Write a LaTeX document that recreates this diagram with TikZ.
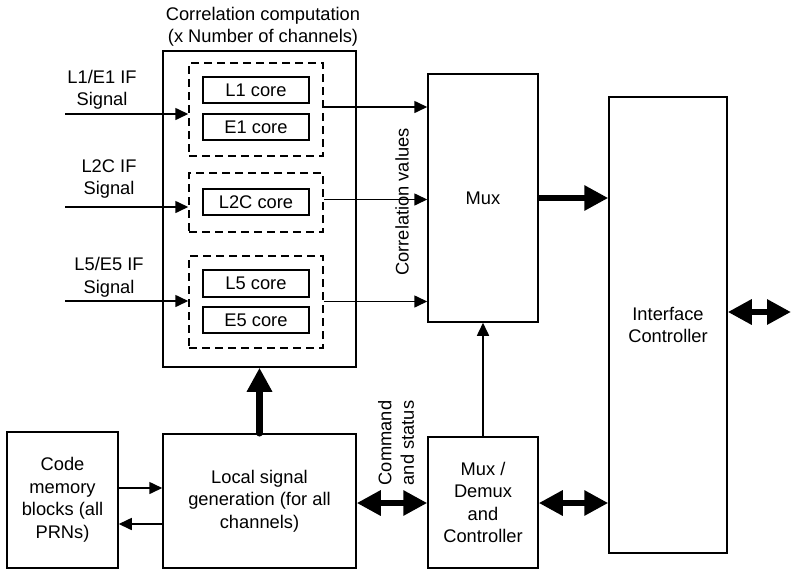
\documentclass[tikz,border=0pt]{standalone}
\usepackage{fontspec}
\setmainfont{Liberation Sans}
\usetikzlibrary{arrows.meta}
\begin{document}
\begin{tikzpicture}[x=1pt,y=-1pt,
  font=\fontsize{18.3}{22.5}\selectfont,
  box/.style={draw, line width=1.5pt, inner sep=0pt, align=center},
  dbox/.style={draw, line width=1.5pt, dash pattern=on 8pt off 5pt, inner sep=0pt},
  thin/.style={line width=1.6pt, -{Triangle[length=13pt,width=12pt]}},
  thick/.style={line width=6.5pt, -{Triangle[length=24pt,width=24pt]}},
  dthick/.style={line width=6.5pt, {Triangle[length=24pt,width=24pt]}-{Triangle[length=24pt,width=24pt]}},
  lbl/.style={align=center, inner sep=0pt}]
\useasboundingbox (0,0) rectangle (791,570);
\fill[white] (0,0) rectangle (791,570);

% boxes
\node[box, minimum width=193pt, minimum height=316pt] (corr) at (259.5,209) {};
\node[dbox, minimum width=134pt, minimum height=93pt] (d1) at (256,109.5) {};
\node[box, minimum width=106pt, minimum height=26pt] (L1) at (256,90) {L1 core};
\node[box, minimum width=106pt, minimum height=26pt] (E1) at (256,127) {E1 core};
\node[dbox, minimum width=134pt, minimum height=59pt] (d2) at (256,202.5) {};
\node[box, minimum width=106pt, minimum height=26pt] (L2C) at (256,202) {L2C core};
\node[dbox, minimum width=134pt, minimum height=92pt] (d3) at (256,302) {};
\node[box, minimum width=106pt, minimum height=27pt] (L5) at (256,283.5) {L5 core};
\node[box, minimum width=106pt, minimum height=26pt] (E5) at (256,320) {E5 core};

\node[box, minimum width=110pt, minimum height=248pt] (mux) at (483,198) {Mux};
\node[box, minimum width=118pt, minimum height=456pt] (ic) at (668,325) {Interface\\Controller};
\node[box, minimum width=110pt, minimum height=131pt] (md) at (483,502.5) {Mux /\\Demux\\and\\Controller};
\node[box, minimum width=193pt, minimum height=134pt] (lsg) at (259.5,501) {Local signal\\generation (for all\\channels)};
\node[box, minimum width=111pt, minimum height=136pt] (cm) at (62.5,500) {Code\\memory\\blocks (all\\PRNs)};

% texts
\node[lbl] (title) at (263,27) {Correlation computation\\(x Number of channels)};
\node[lbl] (t1) at (102,90) {L1/E1 IF\\Signal};
\node[lbl] (t2) at (109,179) {L2C IF\\Signal};
\node[lbl] (t3) at (109,277.5) {L5/E5 IF\\Signal};
\node[lbl, rotate=90] (cv) at (402,202) {Correlation values};
\node[lbl, rotate=90] (cs) at (396,443) {Command\\and status};

% input arrows
\coordinate (in1) at (65,114);
\coordinate (in2) at (65,207);
\coordinate (in3) at (65,301);
\draw[thin] (in1) -- (in1 -| d1.west);
\draw[thin] (in2) -- (in2 -| d2.west);
\draw[thin] (in3) -- (in3 -| d3.west);

% outputs to mux
\coordinate (o1) at (0,107);
\coordinate (o2) at (0,199.5);
\coordinate (o3) at (0,301.5);
\draw[thin] (d1.east |- o1) -- (mux.west |- o1);
\draw[thin] (d2.east |- o2) -- (mux.west |- o2);
\draw[thin] (d3.east |- o3) -- (mux.west |- o3);

% mux -> ic
\draw[thick] (mux.east) -- (ic.west |- mux.east);
% ic external
\coordinate (ext) at (791,312);
\draw[dthick] (ic.east |- ext) -- (ext);
% md -> mux
\draw[thin] (md.north) -- (mux.south);
% md <-> ic
\coordinate (cy) at (0,503);
\draw[dthick] (md.east |- cy) -- (ic.west |- cy);
% lsg <-> md
\draw[dthick] (lsg.east |- cy) -- (md.west |- cy);
% lsg -> corr
\draw[thick, line cap=round] (lsg.north) -- (corr.south);
% cm <-> lsg
\coordinate (c1) at (0,488);
\coordinate (c2) at (0,524);
\draw[thin] (cm.east |- c1) -- (lsg.west |- c1);
\draw[thin] (lsg.west |- c2) -- (cm.east |- c2);
\end{tikzpicture}
\end{document}
